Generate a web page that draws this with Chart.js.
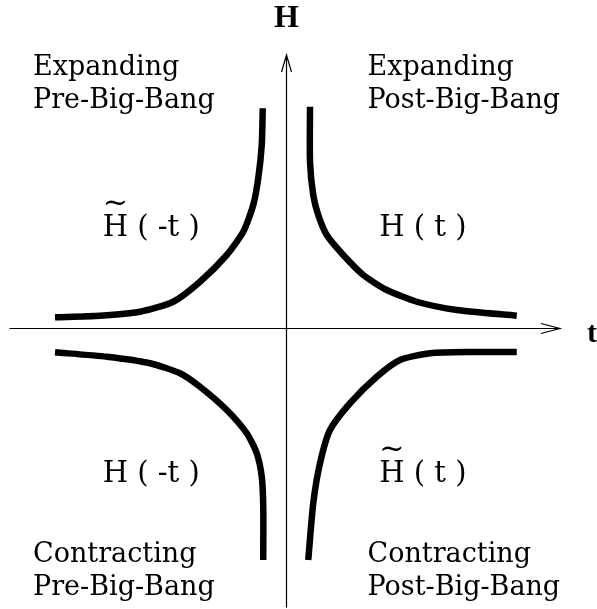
<!DOCTYPE html>
<html>
<head>
<meta charset="utf-8">
<script src="https://cdn.jsdelivr.net/npm/chart.js@4.4.1/dist/chart.umd.min.js"></script>
<style>
  html, body { margin: 0; padding: 0; background: #fff; }
  #wrap { width: 597px; height: 609px; }
</style>
</head>
<body>
<div id="wrap"><canvas id="hubble" width="597" height="609"></canvas></div>
<script>
// --- curves (t, H) in arbitrary units ---
const expPost_t = [0.94, 0.94, 1.07, 1.27, 1.61, 2.27, 3.07, 4.01, 5.21, 6.81, 9.21];
const expPost_H = [8.87, 6.67, 5.34, 4.54, 3.74, 2.94, 2.14, 1.54, 1.07, 0.74, 0.51];

const expPre_t = [-9.26, -7.46, -5.86, -4.53, -3.46, -2.39, -1.73, -1.33, -1.13, -0.99, -0.95];
const expPre_H = [0.45, 0.51, 0.67, 1.07, 1.87, 2.94, 3.87, 4.94, 6.01, 7.34, 8.81];

const conPre_t = [-9.26, -7.19, -5.46, -4.26, -3.46, -2.39, -1.59, -1.19, -0.99, -0.93, -0.93];
const conPre_H = [-0.95, -1.13, -1.39, -1.79, -2.33, -3.26, -4.19, -4.99, -5.93, -7.13, -9.26];

const conPost_t = [0.87, 1.07, 1.34, 1.74, 2.54, 3.61, 4.54, 5.74, 7.47, 9.21];
const conPost_H = [-9.26, -6.99, -5.39, -4.06, -2.99, -1.93, -1.26, -0.99, -0.94, -0.94];

// labels
const quadrantText = {
  tl: ["Expanding", "Pre-Big-Bang"],
  tr: ["Expanding", "Post-Big-Bang"],
  bl: ["Contracting", "Pre-Big-Bang"],
  br: ["Contracting", "Post-Big-Bang"]
};
const curveText = [
  { text: "H ( -t )", tilde: true,  t: -7.35, H: 3.70 },
  { text: "H ( t )",  tilde: false, t: 3.71,  H: 3.70 },
  { text: "H ( -t )", tilde: false, t: -7.35, H: -6.13 },
  { text: "H ( t )",  tilde: true,  t: 3.71,  H: -6.13 }
];
const axisTitleX = "t";
const axisTitleY = "H";

function pts(xs, ys) {
  return xs.map((x, i) => ({ x: x, y: ys[i] }));
}

function curve(label, xs, ys) {
  return {
    label: label,
    data: pts(xs, ys),
    showLine: true,
    borderColor: "#000",
    borderWidth: 6.5,
    borderCapStyle: "butt",
    borderJoinStyle: "round",
    pointRadius: 0,
    tension: 0.22,
    fill: false
  };
}

const serif = "'DejaVu Serif', serif";

// axes with open arrow heads + all the text
const axesPlugin = {
  id: "axesPlugin",
  beforeDatasetsDraw(chart) {
    const ctx = chart.ctx;
    const xs = chart.scales.x, ys = chart.scales.y;
    const x0 = xs.getPixelForValue(0), y0 = ys.getPixelForValue(0);
    const left = xs.getPixelForValue(-11.08), right = xs.getPixelForValue(10.94);
    const top = ys.getPixelForValue(10.94), bottom = ys.getPixelForValue(-11.16);
    ctx.save();
    ctx.strokeStyle = "#000";
    ctx.lineWidth = 1.2;
    ctx.beginPath();
    ctx.moveTo(left, y0); ctx.lineTo(right, y0);
    ctx.moveTo(x0, bottom); ctx.lineTo(x0, top);
    // arrow heads
    ctx.moveTo(right - 19, y0 - 5); ctx.lineTo(right, y0); ctx.lineTo(right - 19, y0 + 5);
    ctx.moveTo(x0 - 5, top + 17); ctx.lineTo(x0, top); ctx.lineTo(x0 + 5, top + 17);
    ctx.stroke();
    ctx.restore();
  },
  afterDraw(chart) {
    const ctx = chart.ctx;
    const xs = chart.scales.x, ys = chart.scales.y;
    ctx.save();
    ctx.fillStyle = "#000";
    ctx.textBaseline = "alphabetic";

    // axis titles
    ctx.font = "bold 32px 'Liberation Serif', serif";
    ctx.textAlign = "center";
    ctx.fillText(axisTitleY, xs.getPixelForValue(0), 27);
    ctx.font = "bold 30px 'Liberation Serif', serif";
    ctx.textAlign = "left";
    ctx.fillText(axisTitleX, 587, 341.5);

    // quadrant captions
    ctx.font = "27px " + serif;
    ctx.textAlign = "left";
    const put = (lines, x, y) => {
      ctx.fillText(lines[0], x, y);
      ctx.fillText(lines[1], x, y + 33);
    };
    put(quadrantText.tl, 33, 75);
    put(quadrantText.tr, 367.5, 75);
    put(quadrantText.bl, 33, 562);
    put(quadrantText.br, 367.5, 562);

    // curve names
    curveText.forEach(c => {
      const px = xs.getPixelForValue(c.t), py = ys.getPixelForValue(c.H);
      ctx.font = "29px " + serif;
      ctx.textAlign = "left";
      ctx.fillText(c.text, px, py);
      if (c.tilde) {
        const hw = ctx.measureText("H").width;
        ctx.font = "30px " + serif;
        ctx.textAlign = "center";
        ctx.fillText("~", px + hw / 2, py - 24);
      }
    });
    ctx.restore();
  }
};

new Chart(document.getElementById("hubble"), {
  type: "scatter",
  data: {
    datasets: [
      curve("H(t)", expPost_t, expPost_H),
      curve("H~(-t)", expPre_t, expPre_H),
      curve("H(-t)", conPre_t, conPre_H),
      curve("H~(t)", conPost_t, conPost_H)
    ]
  },
  options: {
    responsive: false,
    animation: false,
    layout: { padding: 0 },
    plugins: {
      legend: { display: false },
      tooltip: { enabled: false }
    },
    scales: {
      x: { type: "linear", display: false, min: -11.46, max: 12.42 },
      y: { type: "linear", display: false, min: -11.22, max: 13.14 }
    }
  },
  plugins: [axesPlugin]
});
</script>
</body>
</html>
